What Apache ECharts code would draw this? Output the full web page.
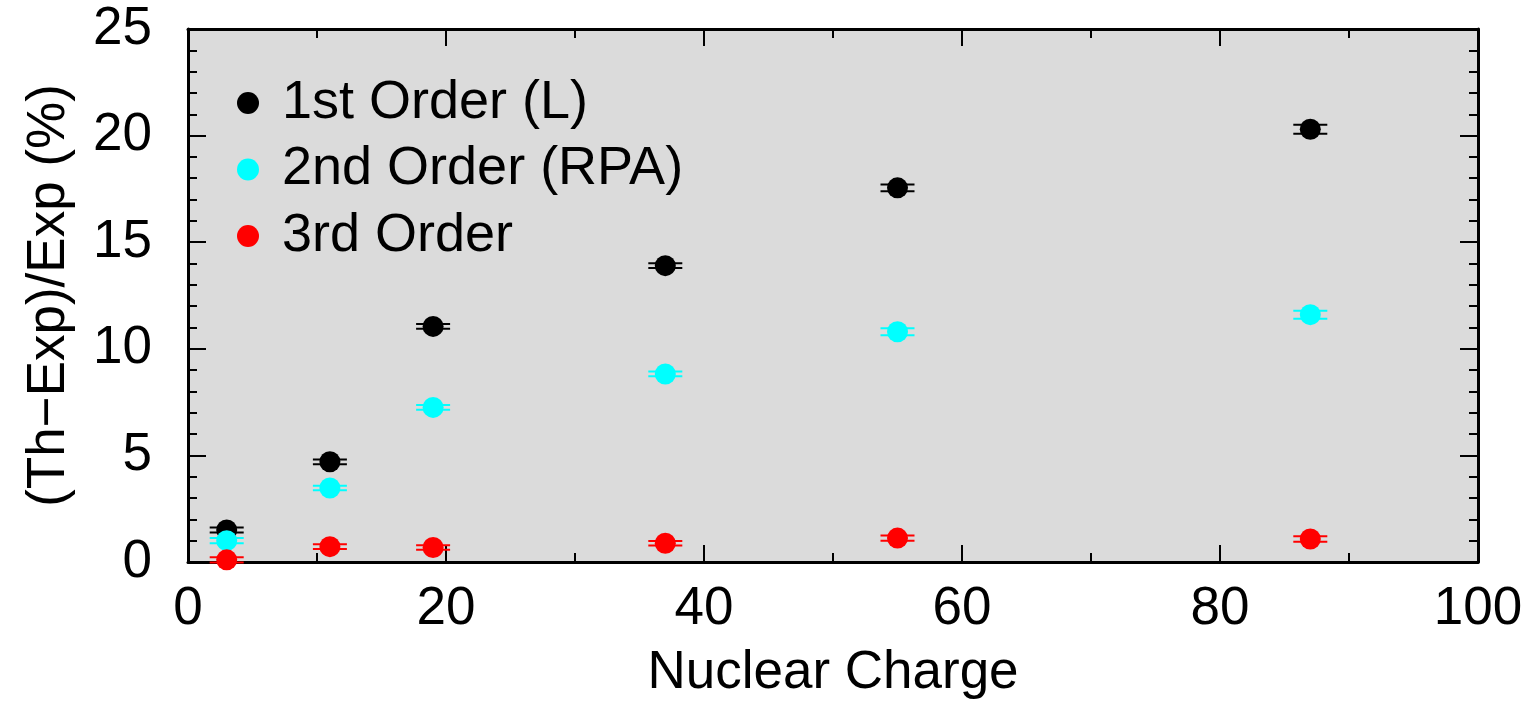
<!DOCTYPE html>
<html>
<head>
<meta charset="utf-8">
<script src="https://cdn.jsdelivr.net/npm/echarts@6/dist/echarts.min.js"></script>
<style>
html, body { margin: 0; padding: 0; background: #fff; }
#chart { width: 1531px; height: 707px; }
</style>
</head>
<body>
<div id="chart"></div>
<script>
// nuclear charge of each atom
var charges = [3, 11, 19, 37, 55, 87];

// (Th-Exp)/Exp in %
var firstOrder = [1.5, 4.7, 11.05, 13.9, 17.55, 20.3];
var secondOrder = [1.0, 3.47, 7.25, 8.82, 10.8, 11.6];
var thirdOrder = [0.1, 0.72, 0.68, 0.88, 1.12, 1.08];

// error bars
var firstErr = [0.12, 0.11, 0.11, 0.11, 0.16, 0.21];
var secondErr = [0.12, 0.11, 0.11, 0.11, 0.16, 0.19];
var thirdErr = [0.12, 0.11, 0.11, 0.11, 0.12, 0.13];

var xTicks = [0, 20, 40, 60, 80, 100];
var yTicks = [0, 5, 10, 15, 20, 25];

var seriesNames = ['1st Order (L)', '2nd Order (RPA)', '3rd Order'];
var seriesColors = ['#000000', '#00ffff', '#ff0000'];

var font = 'Liberation Sans, Arial, sans-serif';

function points(vals, errs) {
	return charges.map(function(z, i) {
		return [z, vals[i], errs[i]];
	});
}

function errorBars(name, color, vals, errs) {
	return {
		name: name + ' err',
		type: 'custom',
		z: 1,
		clip: false,
		data: points(vals, errs),
		renderItem: function(params, api) {
			var x = api.value(0), y = api.value(1), e = api.value(2);
			var hi = api.coord([x, y + e]);
			var lo = api.coord([x, y - e]);
			var hw = 17;
			var style = { stroke: color, lineWidth: 2 };
			return {
				type: 'group',
				children: [
					{ type: 'line', shape: { x1: hi[0] - hw, y1: hi[1], x2: hi[0] + hw, y2: hi[1] }, style: style },
					{ type: 'line', shape: { x1: lo[0] - hw, y1: lo[1], x2: lo[0] + hw, y2: lo[1] }, style: style },
					{ type: 'line', shape: { x1: hi[0], y1: hi[1], x2: lo[0], y2: lo[1] }, style: style }
				]
			};
		}
	};
}

function scatter(name, color, vals) {
	return {
		name: name,
		type: 'scatter',
		z: 3,
		clip: false,
		symbol: 'circle',
		symbolSize: 21,
		itemStyle: { color: color, opacity: 1 },
		data: charges.map(function(z, i) { return [z, vals[i]]; })
	};
}

var tickStyle = { color: '#000', width: 2 };

var chart = echarts.init(document.getElementById('chart'));
var option = {
	animation: false,
	backgroundColor: '#ffffff',
	textStyle: { fontFamily: font },
	grid: {
		left: 188, right: 53, top: 29, bottom: 145,
		show: true,
		backgroundColor: '#dbdbdb',
		borderWidth: 0
	},
	legend: {
		orient: 'vertical',
		left: 237,
		top: 76,
		padding: 0,
		itemWidth: 22,
		itemHeight: 22,
		itemGap: 12.5,
		icon: 'circle',
		data: seriesNames,
		textStyle: {
			fontFamily: font,
			fontSize: 54,
			lineHeight: 54,
			color: '#000',
			padding: [0, 0, 0, 18]
		}
	},
	xAxis: [{
		type: 'value',
		min: 0, max: 100, interval: 20,
		name: 'Nuclear Charge',
		nameLocation: 'middle',
		nameGap: 85,
		nameTextStyle: { fontFamily: font, fontSize: 53, color: '#000' },
		axisLine: { show: true, onZero: false, lineStyle: { color: '#000', width: 3 } },
		axisTick: { show: true, inside: true, length: 17, lineStyle: tickStyle },
		minorTick: { show: true, splitNumber: 2, length: 9, lineStyle: tickStyle },
		splitLine: { show: false },
		axisLabel: {
			fontFamily: font, fontSize: 53, color: '#000', margin: 21,
			formatter: function(v) { return xTicks.indexOf(v) >= 0 ? String(v) : ''; }
		}
	}, {
		type: 'value',
		position: 'top',
		min: 0, max: 100, interval: 20,
		axisLine: { show: true, onZero: false, lineStyle: { color: '#000', width: 3 } },
		axisTick: { show: true, inside: true, length: 17, lineStyle: tickStyle },
		minorTick: { show: true, splitNumber: 2, length: 9, lineStyle: tickStyle },
		splitLine: { show: false },
		axisLabel: { show: false }
	}],
	yAxis: [{
		type: 'value',
		min: 0, max: 25, interval: 5,
		name: '(Th\u2212Exp)/Exp (%)',
		nameLocation: 'middle',
		nameGap: 112,
		nameTextStyle: { fontFamily: font, fontSize: 53, color: '#000' },
		axisLine: { show: true, onZero: false, lineStyle: { color: '#000', width: 3 } },
		axisTick: { show: true, inside: true, length: 18, lineStyle: tickStyle },
		minorTick: { show: true, splitNumber: 5, length: 9, lineStyle: tickStyle },
		splitLine: { show: false },
		axisLabel: {
			fontFamily: font, fontSize: 53, color: '#000', margin: 36,
			formatter: function(v) { return yTicks.indexOf(v) >= 0 ? String(v) : ''; }
		}
	}, {
		type: 'value',
		position: 'right',
		min: 0, max: 25, interval: 5,
		axisLine: { show: true, onZero: false, lineStyle: { color: '#000', width: 3 } },
		axisTick: { show: true, inside: true, length: 18, lineStyle: tickStyle },
		minorTick: { show: true, splitNumber: 5, length: 9, lineStyle: tickStyle },
		splitLine: { show: false },
		axisLabel: { show: false }
	}],
	series: [
		errorBars(seriesNames[0], seriesColors[0], firstOrder, firstErr),
		errorBars(seriesNames[1], seriesColors[1], secondOrder, secondErr),
		errorBars(seriesNames[2], seriesColors[2], thirdOrder, thirdErr),
		scatter(seriesNames[0], seriesColors[0], firstOrder),
		scatter(seriesNames[1], seriesColors[1], secondOrder),
		scatter(seriesNames[2], seriesColors[2], thirdOrder)
	]
};
chart.setOption(option);
</script>
</body>
</html>
